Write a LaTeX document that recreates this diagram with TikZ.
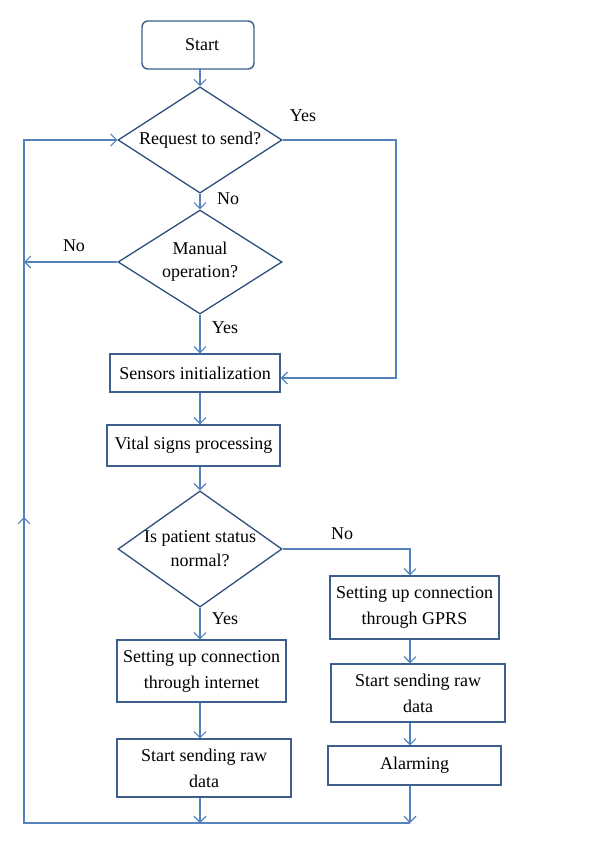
\documentclass[tikz,border=0pt]{standalone}
\usepackage{fontspec}
\setmainfont{Liberation Serif}
\usepackage{tikz}
\usetikzlibrary{positioning}
\usetikzlibrary{shapes.geometric}
\usetikzlibrary{arrows.meta}

\definecolor{boxblue}{RGB}{61,95,142}
\definecolor{diablue}{RGB}{46,79,126}
\definecolor{lineblue}{RGB}{84,130,190}

\begin{document}
\begin{tikzpicture}[
        x=1pt, y=-1pt,
        font=\fontsize{18}{26}\selectfont,
        startbox/.style={rectangle, rounded corners=6pt, draw=boxblue, line width=1.4pt, minimum width=112pt, minimum height=48pt},
        procbox/.style={rectangle, draw=boxblue, line width=1.4pt, align=center, inner sep=2pt},
        decision/.style={diamond, draw=diablue, line width=1.3pt, align=center, inner sep=-8pt, minimum width=164pt},
        flow/.style={draw=lineblue, line width=1.1pt, -{Straight Barb[length=6pt, width=12pt]}},
        line/.style={draw=lineblue, line width=1.1pt},
        answer/.style={inner sep=0pt}
    ]
    \useasboundingbox (0,0) rectangle (600,845);

    % Start
    \node[startbox] at (198,45) (start) {\hspace*{8pt}Start};

    % Decisions
    \node[decision, minimum height=91pt] at (200,140) (request) {Request to send?};
    \node[decision, minimum height=104pt] at (200,262) (manual) {Manual\\[-3pt]operation?};

    % Processing
    \node[procbox, minimum width=170pt, minimum height=38pt] at (195,373) (sensors) {Sensors initialization};
    \node[procbox, minimum width=173pt, minimum height=41pt] at (193.5,445.5) (vital) {Vital signs processing};

    % Patient status
    \node[decision, minimum height=110pt] at (200,549) (status) {Is patient status\\[-2pt]normal?};

    % Normal branch
    \node[procbox, minimum width=169pt, minimum height=62pt] at (201.5,671) (internet) {Setting up connection\\through internet};
    \node[procbox, minimum width=174pt, minimum height=58pt] at (204,768) (sendnet) {Start sending raw\\data};

    % Abnormal branch
    \node[procbox, minimum width=169pt, minimum height=63pt] at (414.5,607.5) (gprs) {Setting up connection\\through GPRS};
    \node[procbox, minimum width=174pt, minimum height=58pt] at (418,693) (sendgprs) {Start sending raw\\data};
    \node[procbox, minimum width=173pt, minimum height=39pt] at (414.5,765.5) (alarm) {Alarming};

    % Turning points
    \coordinate (yesturn) at (396,140);
    \coordinate (noturn) at (410,549);
    \coordinate (loopleft) at (24,262);
    \coordinate (loopbl) at (24,823);
    \coordinate (loopbr) at (410,823);
    \coordinate (loopup) at (24,517);

    % Arrows
    \draw[flow] (start.south) -- (start.south -| request.north) -- (request.north);
    \draw[flow] (request.east) -- (yesturn) |- ([yshift=-5pt]sensors.east);
    \draw[flow] (request.south) -- (manual.north);
    \draw[flow] (manual.west) -- (loopleft);
    \draw[flow] (manual.south) -- (manual.south |- sensors.north);
    \draw[flow] (sensors.south -| manual.south) -- (vital.north -| manual.south);
    \draw[flow] (vital.south -| status.north) -- (status.north);
    \draw[flow] (status.east) -- (noturn) -- (noturn |- gprs.north);
    \draw[flow] (status.south) -- (status.south |- internet.north);
    \draw[flow] (internet.south -| status.south) -- (sendnet.north -| status.south);
    \draw[flow] (gprs.south -| noturn) -- (sendgprs.north -| noturn);
    \draw[flow] (sendgprs.south -| noturn) -- (alarm.north -| noturn);
    \draw[flow] (sendnet.south -| status.south) -- (loopbl -| status.south);
    \draw[flow] (alarm.south -| noturn) -- (loopbr);

    % Loop back
    \draw[line] (loopbr) -- (loopbl) -- (loopup);
    \draw[flow] (loopbl) -- (loopup);
    \draw[flow] (loopup) |- (request.west);

    % Labels
    \node[answer] at (303,116) (yes1) {Yes};
    \node[answer] at (228,199) (no1) {No};
    \node[answer] at (74,246) (no2) {No};
    \node[answer] at (225,328) (yes2) {Yes};
    \node[answer] at (342,534) (no3) {No};
    \node[answer] at (225,619) (yes3) {Yes};

\end{tikzpicture}
\end{document}
